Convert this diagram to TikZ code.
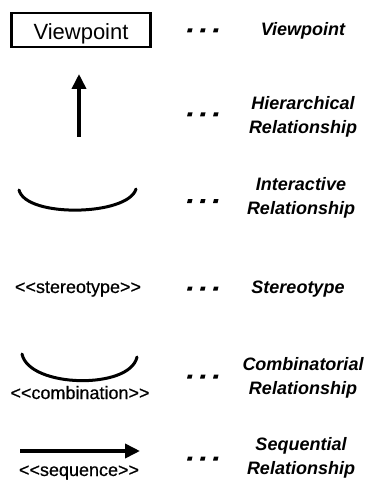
\documentclass[tikz,border=0pt]{standalone}
\usepackage{fontspec}
\setmainfont{Liberation Sans}
\newfontfamily\lblfont{Liberation Sans}[FakeBold=0.5]
\usetikzlibrary{arrows.meta}
\tikzset{
  lefttxt/.style={inner sep=0pt, anchor=base, font=\lblfont\fontsize{18}{22}\selectfont},
  righttxt/.style={inner sep=0pt, align=center, font=\fontsize{18}{24}\selectfont\bfseries\itshape},
  relline/.style={line width=3pt, line cap=round},
  bigarrow/.style={line width=3.6pt, -{Triangle[length=15pt,width=14pt]}},
  vpbox/.style={draw, line width=2.7pt, inner sep=0pt, minimum width=139.3pt,
    minimum height=33.9pt, text height=18.6pt, text depth=0pt,
    font=\fontsize{22}{26}\selectfont}
}
\newcommand{\dotrow}[1]{%
  \foreach \xx in {187,200,213}{%
    \fill (\xx+1,#1-2) -- (\xx+5.5,#1-2) -- (\xx+4.5,#1+2) -- (\xx,#1+2) -- cycle;}}
\newcommand{\lt}{<\kern0pt<\kern0pt}
\newcommand{\gt}{\kern0pt>\kern0pt>}
\begin{document}
\begin{tikzpicture}[x=1pt,y=-1pt]
\useasboundingbox (0,0) rectangle (366,481);
% row 1: viewpoint
\node[vpbox] (vp) at (81,30) {Viewpoint};
\dotrow{30.5}
\node[righttxt, anchor=base] (vpl) at (303,36) {Viewpoint};
% row 2: hierarchical
\coordinate (hb) at (79,137);
\coordinate (ht) at (79,74);
\draw[bigarrow] (hb) -- (ht);
\dotrow{114.5}
\node[righttxt] (hl) at (303,117) {Hierarchical\\Relationship};
% row 3: interactive
\coordinate (ia) at (19,190);
\coordinate (ib) at (136,189);
\draw[relline] (ia) .. controls (26,218) and (128,216) .. (ib);
\dotrow{201}
\node[righttxt] (il) at (301,198) {Interactive\\Relationship};
% row 4: stereotype
\node[lefttxt] (st) at (78,293) {\lt stereotype\gt};
\dotrow{288.5}
\node[righttxt, anchor=base] (stl) at (298,293) {Stereotype};
% row 5: combination
\coordinate (ca) at (22,354);
\coordinate (cb) at (137,357);
\draw[relline] (ca) .. controls (29,388) and (130,390) .. (cb);
\node[lefttxt] (cm) at (80,399) {\lt combination\gt};
\dotrow{376.5}
\node[righttxt] (cl) at (303,378) {Combinatorial\\Relationship};
% row 6: sequence
\coordinate (sa) at (20,451);
\coordinate (sb) at (140,451);
\draw[bigarrow] (sa) -- (sb);
\node[lefttxt] (sq) at (79,476) {\lt sequence\gt};
\dotrow{458.5}
\node[righttxt] (sl) at (301,458) {Sequential\\Relationship};
\end{tikzpicture}
\end{document}
